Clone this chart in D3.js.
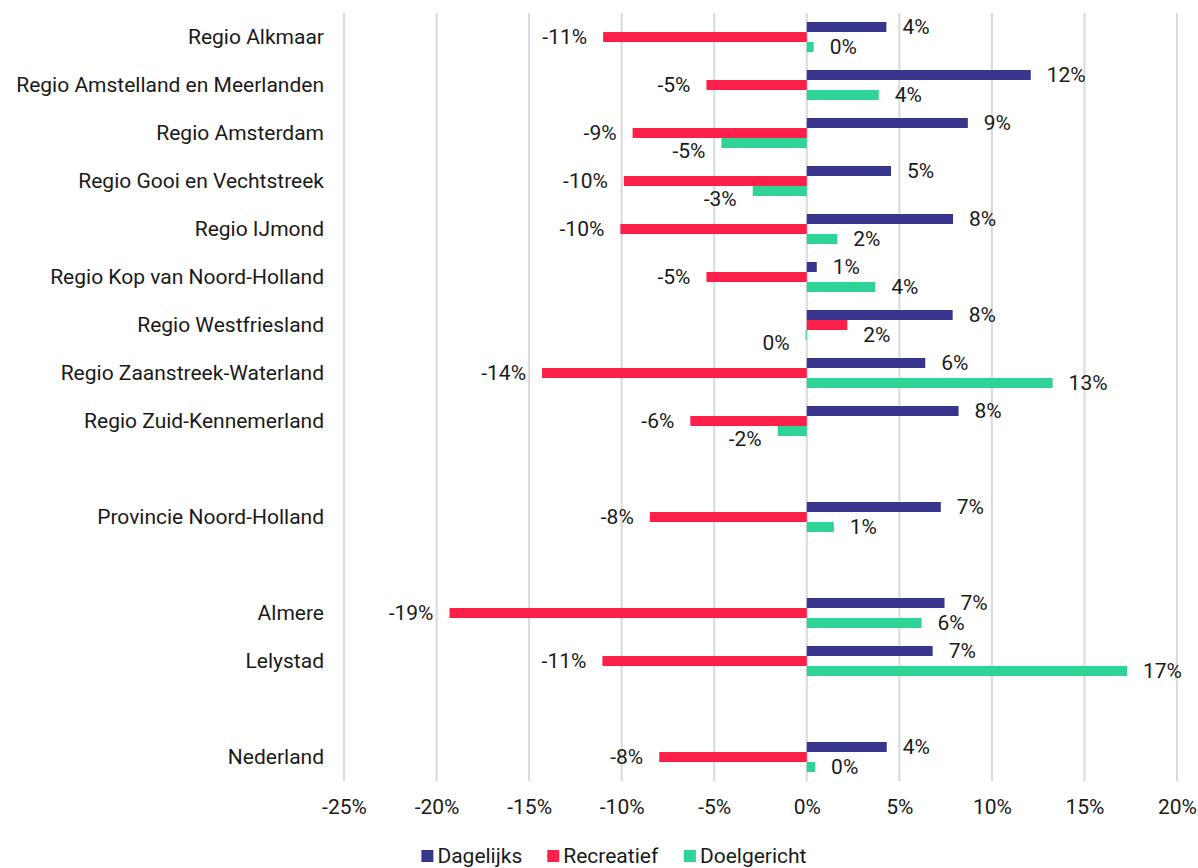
<!DOCTYPE html>
<html>
<head>
<meta charset="utf-8">
<script src="https://cdn.jsdelivr.net/npm/d3@7"></script>
<style>
  html, body { margin: 0; padding: 0; background: #fff; }
  svg text { font-family: Roboto, "Noto Sans", sans-serif; fill: #1a1a1a; }
</style>
</head>
<body>
<svg id="chart" width="1198" height="868"></svg>
<script>
// Categories, top to bottom; "" marks an empty spacer row
const categories = [
  "Regio Alkmaar",
  "Regio Amstelland en Meerlanden",
  "Regio Amsterdam",
  "Regio Gooi en Vechtstreek",
  "Regio IJmond",
  "Regio Kop van Noord-Holland",
  "Regio Westfriesland",
  "Regio Zaanstreek-Waterland",
  "Regio Zuid-Kennemerland",
  "",
  "Provincie Noord-Holland",
  "",
  "Almere",
  "Lelystad",
  "",
  "Nederland"
];
const seriesNames = ["Dagelijks", "Recreatief", "Doelgericht"];
// values in percent; null for spacer rows
const dagelijks   = [4.3, 12.1, 8.7, 4.55, 7.9, 0.54, 7.88, 6.4, 8.2, null, 7.24, null, 7.44, 6.8, null, 4.32];
const recreatief  = [-11.0, -5.42, -9.41, -9.88, -10.07, -5.42, 2.19, -14.3, -6.29, null, -8.48, null, -19.3, -11.04, null, -7.97];
const doelgericht = [0.37, 3.89, -4.61, -2.92, 1.65, 3.7, -0.06, 13.28, -1.57, null, 1.46, null, 6.2, 17.3, null, 0.45];
const xTicks = [-25, -20, -15, -10, -5, 0, 5, 10, 15, 20];
const colors = ["#38358f", "#ff1f4b", "#2fd396"];

const seriesValues = [dagelijks, recreatief, doelgericht];
const FS = 21;
const svg = d3.select("#chart");
const margin = { top: 13, left: 344, right: 21, bottom: 87 };
const W = 1198, H = 868;
const plotH = categories.length * 48;

const x = d3.scaleLinear().domain([-25, 20]).range([margin.left, W - margin.right]);
const rowKeys = categories.map((c, i) => i);
const y = d3.scaleBand().domain(rowKeys).range([margin.top, margin.top + plotH]).paddingInner(0.375).paddingOuter(0.1875);
const ySub = d3.scaleBand().domain(d3.range(seriesNames.length)).range([0, y.bandwidth()]);

// gridlines
svg.append("g")
  .selectAll("line")
  .data(xTicks)
  .join("line")
  .attr("x1", d => x(d)).attr("x2", d => x(d))
  .attr("y1", margin.top).attr("y2", margin.top + plotH)
  .attr("stroke", "#d9d9d9").attr("stroke-width", 2);

// x axis tick labels
const xAxis = d3.axisBottom(x).tickValues(xTicks).tickSize(0).tickPadding(0)
  .tickFormat(d => `${d}%`);
const gx = svg.append("g").attr("transform", `translate(0, ${margin.top + plotH + 26})`).call(xAxis);
gx.select(".domain").remove();
gx.selectAll("text").attr("font-size", FS).attr("dy", "0.35em").attr("y", 0)
  .style("font-family", "Roboto, sans-serif").attr("fill", "#1a1a1a");

// y axis category labels
const yAxis = d3.axisLeft(y).tickSize(0).tickPadding(0).tickFormat(i => categories[i]);
const gy = svg.append("g").attr("transform", `translate(${margin.left - 20}, 0)`).call(yAxis);
gy.select(".domain").remove();
gy.selectAll("text").attr("font-size", FS).attr("x", 0)
  .style("font-family", "Roboto, sans-serif").attr("fill", "#1a1a1a");

// bars
const fmt = v => `${Math.round(v)}%`;
const barData = [];
categories.forEach((c, i) => {
  seriesValues.forEach((vals, s) => {
    if (vals[i] !== null) barData.push({ row: i, s, v: vals[i] });
  });
});

svg.append("g").selectAll("rect")
  .data(barData)
  .join("rect")
  .attr("x", d => Math.min(x(0), x(d.v)))
  .attr("width", d => Math.abs(x(d.v) - x(0)))
  .attr("y", d => y(d.row) + ySub(d.s))
  .attr("height", ySub.bandwidth())
  .attr("fill", d => colors[d.s]);

// data labels
svg.append("g").selectAll("text")
  .data(barData)
  .join("text")
  .attr("x", d => d.v >= 0 ? x(d.v) + 16 : x(d.v) - 16)
  .attr("y", d => {
    let yy = y(d.row) + ySub(d.s) + ySub.bandwidth() / 2;
    if (d.s === 2 && d.v < 0) yy += 8;
    if (d.s === 1 && d.v >= 0) yy += 10;
    return yy;
  })
  .attr("dy", "0.35em")
  .attr("text-anchor", d => d.v >= 0 ? "start" : "end")
  .attr("font-size", FS)
  .text(d => fmt(d.v));

// legend
const legend = svg.append("g").attr("transform", `translate(0, 856)`);
const items = legend.selectAll("g").data(seriesNames).join("g");
items.append("rect").attr("width", 12).attr("height", 12).attr("y", -6)
  .attr("fill", (d, i) => colors[i]);
items.append("text").attr("x", 16).attr("dy", "0.35em").attr("font-size", FS).text(d => d);
let widths = [];
items.each(function () { widths.push(this.getBBox().width); });
const gap = 25;
const total = d3.sum(widths) + gap * (widths.length - 1);
let cx = 614 - total / 2;
items.attr("transform", (d, i) => {
  const t = `translate(${cx}, 0)`;
  cx += widths[i] + gap;
  return t;
});
</script>
</body>
</html>
